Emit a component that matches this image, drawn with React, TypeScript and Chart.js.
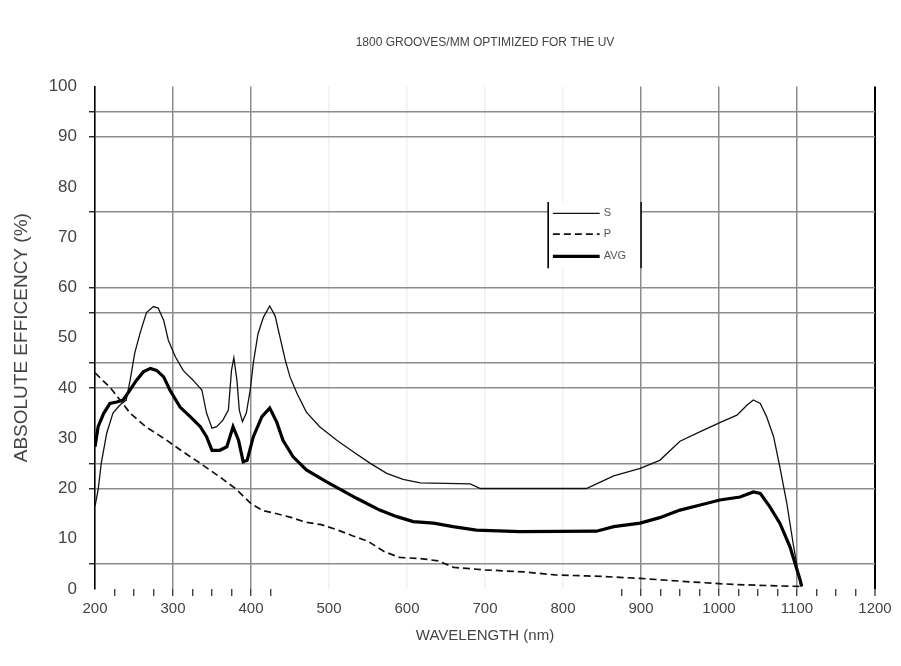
import { useEffect, useRef } from 'react';
import { Chart, registerables } from 'chart.js';

Chart.register(...registerables);

// ---- data (wavelength in nm, absolute efficiency in %) ----
const sWavelengths = [200, 204, 208, 215, 223, 232, 240, 245, 251, 258, 266, 275, 281, 288, 294, 303, 313, 326, 337, 343, 350, 356, 364, 371, 375, 378, 382, 385, 389, 394, 399, 403, 409, 416, 424, 431, 437, 444, 450, 459, 471, 488, 510, 531, 553, 574, 595, 617, 681, 694, 830, 843, 865, 899, 924, 950, 976, 1001, 1023, 1036, 1044, 1053, 1061, 1070, 1078, 1087, 1095, 1104, 1106];
const sValues = [16.5, 19.7, 25, 31, 35, 36.6, 37.6, 41.5, 47, 51, 55, 56.2, 55.9, 53.5, 49.5, 46.2, 43.5, 41.5, 39.6, 35, 32, 32.3, 33.6, 35.6, 43.5, 46, 41.5, 35.6, 33.3, 35, 39.6, 45, 50.8, 54.1, 56.3, 54.3, 50.2, 45.5, 42.2, 38.9, 35.2, 32.3, 29.6, 27.3, 25, 23, 21.8, 21.1, 20.9, 20, 20, 20.9, 22.5, 24, 25.6, 29.4, 31.3, 33.1, 34.6, 36.6, 37.6, 36.9, 34.3, 30.3, 24.3, 17, 9.1, 1.1, 0.5];

const pWavelengths = [200, 210, 220, 230, 245, 265, 290, 310, 335, 360, 380, 400, 415, 430, 450, 470, 490, 510, 530, 550, 570, 590, 620, 640, 660, 700, 750, 790, 830, 850, 900, 975, 1020, 1080, 1105];
const pValues = [43, 41.5, 40, 38, 35, 32.3, 29.8, 27.6, 25, 22.3, 20, 17, 15.6, 15.1, 14.3, 13.3, 12.8, 11.8, 10.6, 9.5, 7.5, 6.3, 6, 5.6, 4.3, 3.8, 3.4, 2.8, 2.6, 2.5, 2.1, 1.3, 0.9, 0.6, 0.5];

const avgWavelengths = [200, 204, 211, 219, 228, 236, 245, 253, 262, 271, 279, 288, 296, 309, 322, 335, 343, 350, 360, 369, 377, 384, 390, 395, 403, 414, 424, 433, 441, 454, 471, 497, 536, 565, 587, 608, 634, 659, 689, 745, 843, 865, 899, 924, 950, 976, 1001, 1027, 1044, 1053, 1065, 1078, 1091, 1104, 1106];
const avgValues = [28.3, 32.3, 34.9, 36.9, 37.2, 37.6, 39.6, 41.5, 43.2, 43.9, 43.5, 42.2, 39.6, 36.2, 34.3, 32.3, 30.3, 27.6, 27.6, 28.3, 32.3, 29.6, 25.3, 25.6, 30.3, 34.3, 36, 33.2, 29.6, 26.3, 23.7, 21.3, 18, 15.7, 14.4, 13.4, 13.1, 12.4, 11.7, 11.4, 11.5, 12.4, 13.1, 14.2, 15.7, 16.7, 17.7, 18.3, 19.3, 19, 16.4, 13.1, 8.4, 1.8, 0.5];

const seriesLabels = ['S', 'P', 'AVG'];
const titleText = '1800 GROOVES/MM OPTIMIZED FOR THE UV';
const xTitle = 'WAVELENGTH (nm)';
const yTitle = 'ABSOLUTE EFFICENCY (%)';

const yGridValues = [5, 20, 25, 40, 45, 55, 60, 75, 90, 95];
const xGridValues = [300, 400, 900, 1000, 1100];
const xFaintGridValues = [500, 600, 700, 800];

const toPoints = (xs: number[], ys: number[]) => xs.map((x, i) => ({ x, y: ys[i] }));

const FONT = 'Arial, "Liberation Sans", Helvetica, sans-serif';
const TEXT = '#444';

const boxLegend = {
  id: 'boxLegend',
  afterDraw(chart: any) {
    const { ctx, scales } = chart;
    const x = scales.x;
    const y = scales.y;
    const left = x.getPixelForValue(781);
    const right = x.getPixelForValue(900);
    const top = y.getPixelForValue(77);
    const bottom = y.getPixelForValue(63.8);
    ctx.save();
    ctx.fillStyle = '#ffffff';
    ctx.fillRect(left, top, right - left, bottom - top);
    ctx.strokeStyle = '#000';
    ctx.lineWidth = 1.6;
    ctx.beginPath();
    ctx.moveTo(left, top);
    ctx.lineTo(left, bottom);
    ctx.moveTo(right, top);
    ctx.lineTo(right, bottom);
    ctx.stroke();
    const rows = [74.75, 70.6, 66.2];
    const x0 = x.getPixelForValue(787);
    const x1 = x.getPixelForValue(847);
    chart.data.datasets.forEach((ds: any, i: number) => {
      const yy = y.getPixelForValue(rows[i]);
      ctx.strokeStyle = ds.borderColor;
      ctx.lineWidth = ds.borderWidth;
      ctx.setLineDash(ds.borderDash || []);
      ctx.beginPath();
      ctx.moveTo(x0, yy);
      ctx.lineTo(x1, yy);
      ctx.stroke();
      ctx.setLineDash([]);
      ctx.fillStyle = '#555';
      ctx.font = `11px ${FONT}`;
      ctx.textBaseline = 'middle';
      ctx.textAlign = 'left';
      ctx.fillText(ds.label, x1 + 4, yy);
    });
    ctx.restore();
  },
};

export default function App() {
  const ref = useRef<HTMLCanvasElement | null>(null);
  useEffect(() => {
    if (!ref.current) return;
    Chart.defaults.font.family = FONT;
    const chart = new Chart(ref.current, {
      type: 'line',
      data: {
        datasets: [
          {
            label: seriesLabels[0],
            data: toPoints(sWavelengths, sValues),
            borderColor: '#111',
            borderWidth: 1.3,
            pointRadius: 0,
            tension: 0,
            fill: false,
          },
          {
            label: seriesLabels[1],
            data: toPoints(pWavelengths, pValues),
            borderColor: '#111',
            borderWidth: 1.7,
            borderDash: [7, 4],
            pointRadius: 0,
            tension: 0,
            fill: false,
          },
          {
            label: seriesLabels[2],
            data: toPoints(avgWavelengths, avgValues),
            borderColor: '#000',
            borderWidth: 3.2,
            pointRadius: 0,
            tension: 0,
            fill: false,
          },
        ],
      },
      options: {
        animation: false,
        responsive: true,
        maintainAspectRatio: false,
        layout: { padding: { left: 0, right: 26, top: 0, bottom: 0 } },
        plugins: {
          legend: { display: false },
          tooltip: { enabled: false },
          title: {
            display: true,
            text: titleText,
            fullSize: false,
            color: TEXT,
            font: { size: 12, weight: 'normal' },
            padding: { top: 35, bottom: 37 },
          },
        },
        scales: {
          x: {
            type: 'linear',
            min: 200,
            max: 1200,
            afterFit: (s: any) => {
              s.height = 77;
            },
            ticks: {
              stepSize: 25,
              autoSkip: false,
              maxRotation: 0,
              color: TEXT,
              padding: 4,
              font: { size: 15 },
              callback: (v: any) => (Number(v) % 100 === 0 ? String(v) : ''),
            },
            grid: {
              drawTicks: true,
              tickLength: 7,
              tickWidth: 1.2,
              color: (c: any) => {
                const v = c.tick?.value;
                if (v === 1200) return '#000';
                if (xGridValues.includes(v)) return '#8c8c8c';
                if (xFaintGridValues.includes(v)) return 'rgba(0,0,0,0.06)';
                return 'rgba(0,0,0,0)';
              },
              lineWidth: (c: any) => (c.tick?.value === 1200 ? 2 : 1.5),
              tickColor: (c: any) => {
                const v = c.tick?.value;
                if (v > 200 && v < 450) return '#222';
                if (v > 850 && v <= 1200) return '#222';
                return 'rgba(0,0,0,0)';
              },
            },
            border: { display: false },
            title: {
              display: true,
              text: xTitle,
              color: TEXT,
              font: { size: 15 },
              padding: { top: 4, bottom: 21 },
            },
          },
          y: {
            type: 'linear',
            min: 0,
            max: 100,
            afterFit: (s: any) => {
              s.width = 95;
            },
            ticks: {
              stepSize: 5,
              autoSkip: false,
              color: TEXT,
              padding: 12,
              font: { size: 17 },
              callback: (v: any) => (Number(v) % 10 === 0 ? String(v) : ''),
            },
            grid: {
              drawTicks: true,
              tickLength: 6,
              tickWidth: 1.3,
              color: (c: any) => (yGridValues.includes(c.tick?.value) ? '#8c8c8c' : 'rgba(0,0,0,0)'),
              lineWidth: 1.5,
              tickColor: (c: any) => (yGridValues.includes(c.tick?.value) ? '#111' : 'rgba(0,0,0,0)'),
            },
            border: { display: true, color: '#000', width: 1.6 },
            title: {
              display: true,
              text: yTitle,
              color: TEXT,
              font: { size: 19 },
              padding: { top: 10, bottom: 0 },
            },
          },
        },
      },
      plugins: [boxLegend],
    });
    return () => chart.destroy();
  }, []);

  return (
    <div style={{ position: 'fixed', left: 0, top: 0, width: 901, height: 666, background: '#fff' }}>
      <canvas ref={ref} />
    </div>
  );
}
